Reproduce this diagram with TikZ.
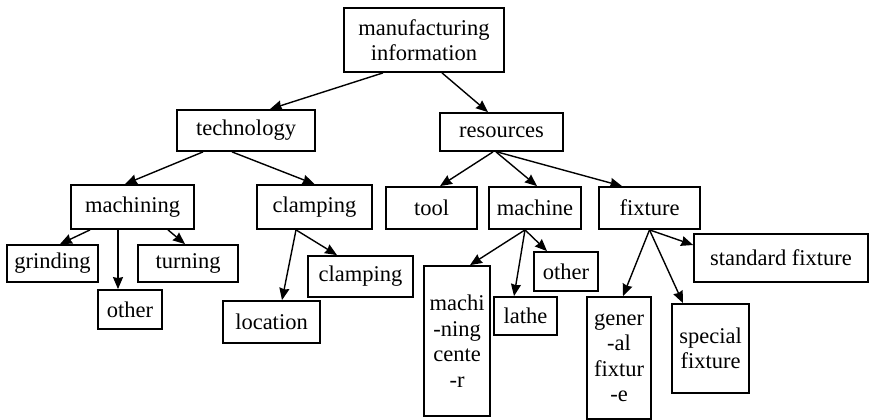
\documentclass[tikz,border=0pt]{standalone}
\usepackage{fontspec}
\setmainfont{Liberation Serif}
\usepackage{tikz}
\usetikzlibrary{arrows.meta}

\begin{document}
\begin{tikzpicture}[x=1pt,y=-1pt,->,>={Stealth[length=12pt,width=10pt,inset=1pt]},
					box node/.style={rectangle,draw,line width=1.8pt,inner sep=0pt,align=center,
					font=\rmfamily\fontsize{22.5}{25.5}\selectfont}]
					\useasboundingbox (0,0) rectangle (870,420);
					
					% top levels
					\node[box node,minimum width=160pt,minimum height=64pt] (info) at (424,40) {manufacturing\\information};
					\node[box node,minimum width=138pt,minimum height=41pt] (tech) at (246,130.5) {technology};
					\node[box node,minimum width=123pt,minimum height=38pt] (res) at (501.5,132) {resources};
					
					\node[box node,minimum width=123pt,minimum height=44pt] (mach) at (132.5,207) {machining};
					\node[box node,minimum width=115pt,minimum height=44pt] (clamp) at (314.5,207) {clamping};
					\node[box node,minimum width=91pt,minimum height=42pt] (tool) at (431.5,208) {tool};
					\node[box node,minimum width=92pt,minimum height=42pt] (machine) at (535,208) {machine};
					\node[box node,minimum width=101pt,minimum height=42pt] (fix) at (649.5,208) {fixture};
					
					% leaves
					\node[box node,minimum width=91pt,minimum height=37pt] (grind) at (52.5,263.5) {grinding};
					\node[box node,minimum width=64pt,minimum height=39pt] (other1) at (130,309.5) {other};
					\node[box node,minimum width=100pt,minimum height=37pt] (turn) at (188,263.5) {turning};
					\node[box node,minimum width=97pt,minimum height=42pt] (loc) at (271.5,322) {location};
					\node[box node,minimum width=105pt,minimum height=41pt] (clamp2) at (360.5,276.5) {clamping};
					\node[box node,minimum width=66pt,minimum height=150pt] (center) at (457,341) {machi\\-ning\\cente\\-r};
					\node[box node,minimum width=63pt,minimum height=38pt] (lathe) at (525.5,316) {lathe};
					\node[box node,minimum width=64pt,minimum height=39pt] (other2) at (566,271.5) {other};
					\node[box node,minimum width=64pt,minimum height=122pt] (gen) at (619,358) {gener\\-al\\fixtur\\-e};
					\node[box node,minimum width=77pt,minimum height=89pt] (spec) at (710.5,348.5) {special\\fixture};
					\node[box node,minimum width=174pt,minimum height=48pt] (std) at (781,258) {standard fixture};
					
					\path[line width=1.4pt]
					([xshift=-41pt]info.south) edge ([xshift=24pt]tech.north)
					([xshift=18pt]info.south) edge ([xshift=-13.5pt]res.north)
					([xshift=-43pt]tech.south) edge ([xshift=-7.5pt]mach.north)
					([xshift=-14pt]tech.south) edge (clamp.north)
					([xshift=-8.5pt]res.south) edge ([xshift=8.5pt]tool.north)
					([xshift=-5.5pt]res.south) edge ([xshift=2pt]machine.north)
					([xshift=-4.5pt]res.south) edge ([xshift=-27.5pt]fix.north)
					([xshift=-42.5pt]mach.south) edge ([xshift=7.5pt]grind.north)
					([xshift=-14.5pt]mach.south) edge ([xshift=-12pt]other1.north)
					([xshift=35.5pt]mach.south) edge ([xshift=-3pt]turn.north)
					([xshift=-18.5pt]clamp.south) edge ([xshift=10.5pt]loc.north)
					([xshift=-18.5pt]clamp.south) edge ([xshift=-23.5pt]clamp2.north)
					([xshift=-10pt]machine.south) edge ([xshift=13pt]center.north)
					([xshift=-10pt]machine.south) edge ([xshift=-11.5pt]lathe.north)
					([xshift=-10pt]machine.south) edge ([xshift=-19pt]other2.north)
					(fix.south) edge ([xshift=4pt]gen.north)
					(fix.south) edge ([xshift=-27.5pt]spec.north)
					(fix.south) edge ([yshift=13pt]std.west)
					;
\end{tikzpicture}
\end{document}
